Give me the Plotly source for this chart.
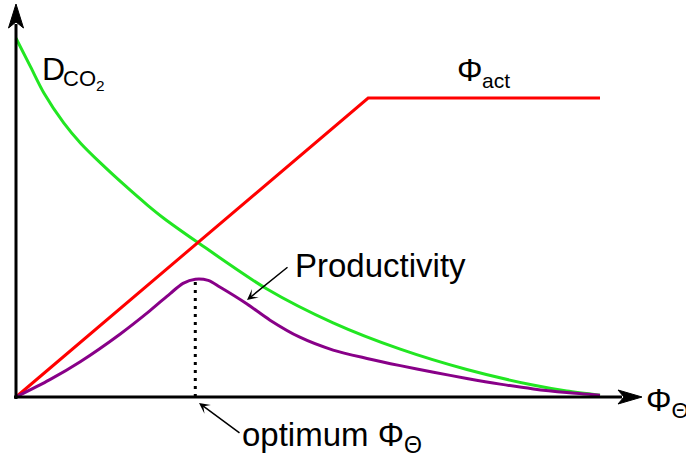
import plotly.graph_objects as go
import numpy as np

# ---- data (schematic units: x = Φ_Θ, y = relative magnitude) ----
green_x = [0.0, 0.25, 0.48, 0.82, 1.11, 1.45, 1.85, 2.25, 2.53, 3.09, 4.29, 5.43, 6.58,
           7.72, 8.85, 9.43, 10.0]
green_y = [6.0, 5.52, 5.08, 4.58, 4.24, 3.91, 3.55, 3.21, 2.99, 2.60, 1.81, 1.24, 0.80,
           0.46, 0.20, 0.10, 0.03]

red_x = [0.0, 6.03, 10.0]
red_y = [0.0, 5.0, 5.0]

purple_x = [0.0, 0.58, 1.10, 1.78, 2.29, 2.64, 2.86, 3.07, 3.29, 3.49, 3.95, 4.35, 4.86,
            5.43, 6.01, 6.58, 7.15, 7.72, 8.29, 8.86, 9.43, 10.0]
purple_y = [0.0, 0.29, 0.59, 1.05, 1.44, 1.73, 1.90, 1.97, 1.95, 1.84, 1.56, 1.285, 1.0,
            0.785, 0.645, 0.525, 0.415, 0.31, 0.215, 0.135, 0.075, 0.03]

W, H = 686, 459
OX, OY, SX, SY = 16, 397, 58.4, 59.8


def X(px):
    return (px - OX) / SX


def Y(py):
    return (OY - py) / SY


FONT = "Liberation Sans, Arial, Helvetica, sans-serif"

fig = go.Figure()

# optimum dotted line at peak of productivity
i_pk = int(np.argmax(purple_y))
fig.add_trace(go.Scatter(x=[purple_x[i_pk], purple_x[i_pk]], y=[0, purple_y[i_pk]],
                         mode="lines", line=dict(color="black", width=3, dash="3px,5px"),
                         hoverinfo="skip"))

fig.add_trace(go.Scatter(x=green_x, y=green_y, mode="lines",
                         line=dict(color="#22e622", width=3, shape="spline", smoothing=0.8)))
fig.add_trace(go.Scatter(x=red_x, y=red_y, mode="lines",
                         line=dict(color="#ff0000", width=3)))
fig.add_trace(go.Scatter(x=purple_x, y=purple_y, mode="lines",
                         line=dict(color="#880088", width=3, shape="spline", smoothing=0.8)))

shapes = []
# axes lines
shapes.append(dict(type="line", xref="x", yref="y", x0=X(14), y0=0, x1=X(622), y1=0,
                   line=dict(color="black", width=3)))
shapes.append(dict(type="line", xref="x", yref="y", x0=0, y0=Y(399), x1=0, y1=Y(24),
                   line=dict(color="black", width=3)))


def pth(pts):
    return "M " + " L ".join(f"{X(a)},{Y(b)}" for a, b in pts) + " Z"


shapes.append(dict(type="path", xref="x", yref="y",
                   path=pth([(642, 397), (618, 390), (624, 397), (618, 404)]),
                   fillcolor="black", line=dict(color="black", width=1)))
shapes.append(dict(type="path", xref="x", yref="y",
                   path=pth([(16, 4), (8.5, 28), (16, 22), (23.5, 28)]),
                   fillcolor="black", line=dict(color="black", width=1)))

ann = []


def txt(s, left, center, size):
    ann.append(dict(text=s, x=X(left - 3), y=Y(center), xref="x", yref="y",
                    xanchor="left", yanchor="middle", showarrow=False,
                    font=dict(family=FONT, size=size, color="black")))


txt("D", 43, 69, 32)
txt("CO<sub>2</sub>", 64, 80, 22)
txt("Φ", 458, 70, 32)
txt("act", 483, 80, 21)
txt("Productivity", 296, 265, 33)
txt("optimum Φ<sub>Θ</sub>", 243, 437, 33)
txt("Φ<sub>Θ</sub>", 647, 402, 32)

# arrows
ann.append(dict(text="", x=X(247), y=Y(300), ax=X(289), ay=Y(266), xref="x", yref="y",
                axref="x", ayref="y", showarrow=True, arrowhead=3, arrowsize=1.2,
                arrowwidth=1.5, arrowcolor="black", standoff=0))
ann.append(dict(text="", x=X(199), y=Y(403), ax=X(241), ay=Y(434), xref="x", yref="y",
                axref="x", ayref="y", showarrow=True, arrowhead=3, arrowsize=1.2,
                arrowwidth=1.5, arrowcolor="black", standoff=0))

fig.update_layout(
    width=W, height=H, margin=dict(l=0, r=0, t=0, b=0),
    paper_bgcolor="white", plot_bgcolor="white", showlegend=False,
    xaxis=dict(visible=False, range=[X(0), X(W)], fixedrange=True),
    yaxis=dict(visible=False, range=[Y(H), Y(0)], fixedrange=True),
    shapes=shapes, annotations=ann,
)

fig.write_html("out.html", config={"displayModeBar": False},
               post_script="document.body.style.margin='0';"
                           "document.body.style.overflow='hidden';")
